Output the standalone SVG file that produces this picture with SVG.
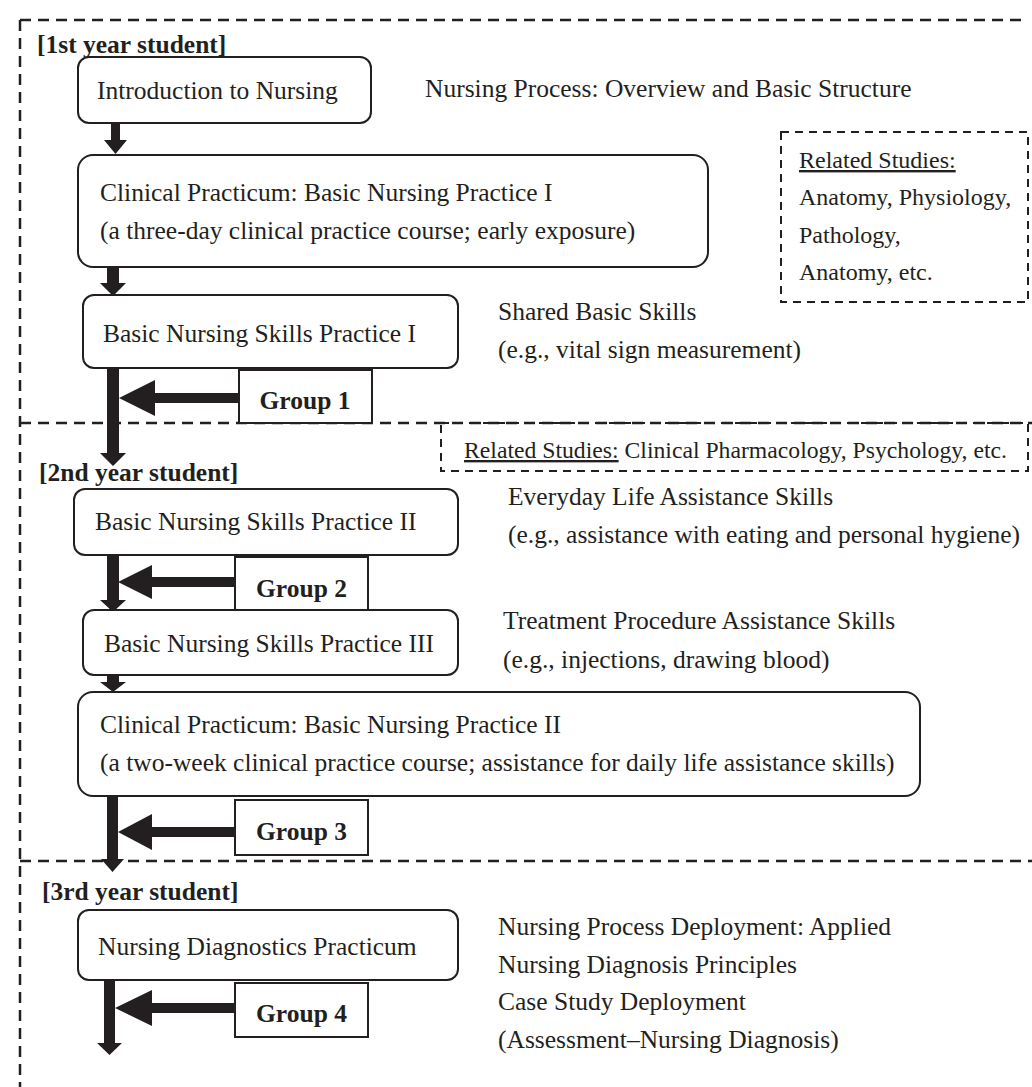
<svg xmlns="http://www.w3.org/2000/svg" width="1032" height="1087" viewBox="0 0 1032 1087">
<style>
  .t { font-family: "Liberation Serif", "Times New Roman", serif; font-size: 25.5px; fill: #231f20; }
  .r { font-family: "Liberation Serif", "Times New Roman", serif; font-size: 24px; fill: #231f20; }
  .r2 { font-family: "Liberation Serif", "Times New Roman", serif; font-size: 23.7px; fill: #231f20; }
  .b { font-family: "Liberation Serif", "Times New Roman", serif; font-size: 25.5px; font-weight: bold; fill: #231f20; }
  .node { fill: #fff; stroke: #231f20; stroke-width: 2; }
  .grp { fill: #fff; stroke: #231f20; stroke-width: 2; }
  .outer { fill: none; stroke: #231f20; stroke-width: 2.5; stroke-dasharray: 11 7; }
  .rel { fill: none; stroke: #231f20; stroke-width: 2; stroke-dasharray: 8 6; }
  .arr { fill: #231f20; }
  .u { text-decoration: underline; }
</style>
<rect width="1032" height="1087" fill="#fff"/>

<g id="frame">
  <path class="outer" d="M20,20 H1024 M20,20 V1087 M20,423 H1032 M20,861 H1032"/>
  <text class="b" x="37" y="53">[1st year student]</text>
  <text class="b" x="39" y="481">[2nd year student]</text>
  <text class="b" x="42" y="900">[3rd year student]</text>
</g>

<g id="related1">
  <rect class="rel" x="781" y="132" width="247" height="170"/>
  <text class="r" x="799" y="168"><tspan class="u">Related Studies:</tspan></text>
  <text class="r" x="799" y="205">Anatomy, Physiology,</text>
  <text class="r" x="799" y="243">Pathology,</text>
  <text class="r" x="799" y="280">Anatomy, etc.</text>
</g>

<g id="related2">
  <rect class="rel" x="441" y="423" width="587" height="48"/>
  <text class="r2" x="464" y="458"><tspan class="u">Related Studies:</tspan> Clinical Pharmacology, Psychology, etc.</text>
</g>

<g id="connectors">
  <path class="arr" d="M111,123 H120 V140 H127 L115.5,154 L104,140 H111 Z"/>
  <path class="arr" d="M107,267 H119 V283 H126 L113,296 L100,283 H107 Z"/>
  <path class="arr" d="M107,368 H119 V453 H126 L113,466 L100,453 H107 Z"/>
  <path class="arr" d="M239,393 V403 H155 V416 L119,398 L155,380 V393 Z"/>
  <path class="arr" d="M107,555 H119 V600 H126 L113,612 L100,600 H107 Z"/>
  <path class="arr" d="M235,577 V587 H152 V599 L118,582 L152,565 V577 Z"/>
  <path class="arr" d="M107,675 H119 V682 H126 L113,692 L100,682 H107 Z"/>
  <path class="arr" d="M107,796 H118 V859 H124 L112.5,872 L101,859 H107 Z"/>
  <path class="arr" d="M235,827 V837 H152 V850 L118,832 L152,814 V827 Z"/>
  <path class="arr" d="M104,980 H115 V1043 H122 L109.5,1055 L97,1043 H104 Z"/>
  <path class="arr" d="M235,1003 V1013 H152 V1026 L115,1008 L152,990 V1003 Z"/>
</g>

<g id="intro">
  <rect class="node" x="78" y="57" width="293" height="66" rx="11"/>
  <text class="t" x="97" y="99">Introduction to Nursing</text>
</g>
<g id="intro-note">
  <text class="t" x="425" y="97">Nursing Process: Overview and Basic Structure</text>
</g>

<g id="clinical1">
  <rect class="node" x="78" y="155" width="630" height="112" rx="15"/>
  <text class="t" x="100" y="201">Clinical Practicum: Basic Nursing Practice I</text>
  <text class="t" x="100" y="239">(a three-day clinical practice course; early exposure)</text>
</g>

<g id="bns1">
  <rect class="node" x="83" y="295" width="375" height="73" rx="11"/>
  <text class="t" x="103" y="342">Basic Nursing Skills Practice I</text>
</g>
<g id="bns1-note">
  <text class="t" x="498" y="320">Shared Basic Skills</text>
  <text class="t" x="498" y="358">(e.g., vital sign measurement)</text>
</g>
<g id="group1">
  <rect class="grp" x="239" y="370" width="133" height="53"/>
  <text class="b" x="305" y="409" text-anchor="middle">Group 1</text>
</g>

<g id="bns2">
  <rect class="node" x="74" y="489" width="384" height="66" rx="11"/>
  <text class="t" x="95" y="530">Basic Nursing Skills Practice II</text>
</g>
<g id="bns2-note">
  <text class="t" x="508" y="505">Everyday Life Assistance Skills</text>
  <text class="t" x="508" y="543">(e.g., assistance with eating and personal hygiene)</text>
</g>
<g id="group2">
  <rect class="grp" x="235" y="557" width="133" height="54"/>
  <text class="b" x="301.5" y="597" text-anchor="middle">Group 2</text>
</g>

<g id="bns3">
  <rect class="node" x="83" y="610" width="375" height="65" rx="11"/>
  <text class="t" x="104" y="652">Basic Nursing Skills Practice III</text>
</g>
<g id="bns3-note">
  <text class="t" x="503" y="629">Treatment Procedure Assistance Skills</text>
  <text class="t" x="503" y="668">(e.g., injections, drawing blood)</text>
</g>

<g id="clinical2">
  <rect class="node" x="78" y="692" width="842" height="104" rx="15"/>
  <text class="t" x="100" y="733">Clinical Practicum: Basic Nursing Practice II</text>
  <text class="t" x="100" y="771">(a two-week clinical practice course; assistance for daily life assistance skills)</text>
</g>
<g id="group3">
  <rect class="grp" x="235" y="800" width="133" height="55"/>
  <text class="b" x="301.5" y="840" text-anchor="middle">Group 3</text>
</g>

<g id="ndp">
  <rect class="node" x="78" y="910" width="380" height="70" rx="11"/>
  <text class="t" x="98" y="955">Nursing Diagnostics Practicum</text>
</g>
<g id="ndp-note">
  <text class="t" x="498" y="935">Nursing Process Deployment: Applied</text>
  <text class="t" x="498" y="973">Nursing Diagnosis Principles</text>
  <text class="t" x="498" y="1010">Case Study Deployment</text>
  <text class="t" x="498" y="1048">(Assessment–Nursing Diagnosis)</text>
</g>
<g id="group4">
  <rect class="grp" x="235" y="983" width="133" height="54"/>
  <text class="b" x="301.5" y="1022" text-anchor="middle">Group 4</text>
</g>
</svg>
